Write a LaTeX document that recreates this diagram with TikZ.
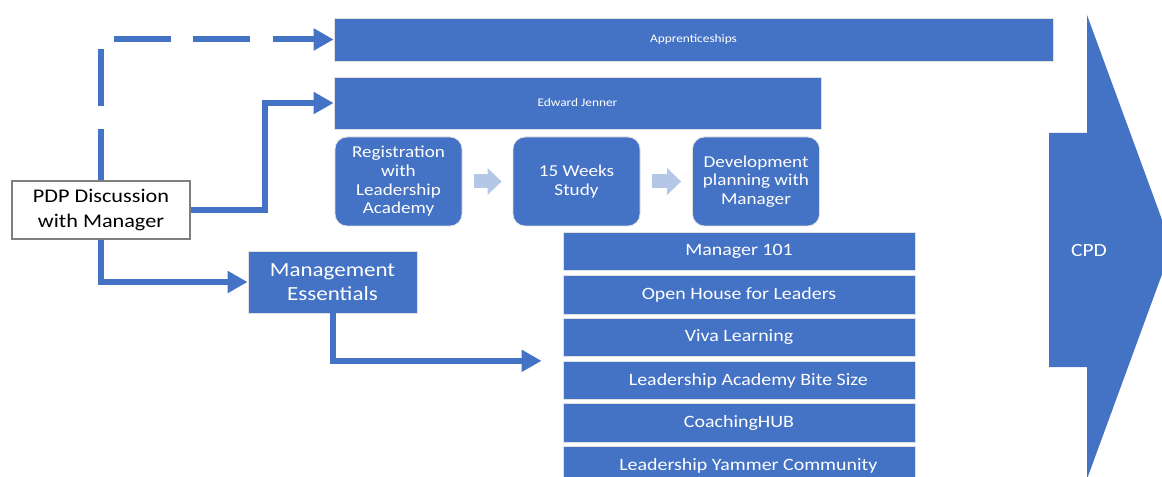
\documentclass[tikz,border=0pt]{standalone}
\usepackage{fontspec}
\setmainfont{Carlito}[FakeStretch=1.15]
\usetikzlibrary{arrows.meta,calc}
\definecolor{boxblue}{HTML}{4472C4}
\definecolor{steplight}{HTML}{B4C7E7}
\definecolor{pdpgray}{HTML}{7F7F7F}

\begin{document}
\begin{tikzpicture}[x=0.75pt,y=0.75pt,yscale=-1,xscale=1,
  bluebox/.style={fill=boxblue,draw=black!12,line width=0.6pt,text=white,inner sep=0.75pt,align=center},
  stepbox/.style={bluebox,rounded corners=9pt,minimum width=95.25pt,minimum height=66.75pt,font=\fontsize{12.5}{14}\selectfont},
  listbox/.style={bluebox,minimum width=264pt,minimum height=28.9pt,font=\fontsize{13}{15}\selectfont},
  conn/.style={draw=boxblue,line width=4.5pt,-{Triangle[length=15pt,width=15.75pt]}},
  steparrow/.style={draw=steplight,line width=10.5pt,-{Triangle[length=10.5pt,width=19.5pt]}}
]
\useasboundingbox (0,0) rectangle (1162,477);

% CPD arrow
\fill [boxblue] (1049,133) -- (1087,133) -- (1087,15) -- (1172,247) -- (1087,479) -- (1087,367) -- (1049,367) -- cycle ;
\draw (1089,251) node (cpd) [text=white,font=\fontsize{14}{16}\selectfont] {CPD};

% Text Node
\draw (101,210) node (pdp) [draw=pdpgray,line width=1.1pt,fill=white,minimum width=133.5pt,minimum height=43.5pt,inner sep=0.75pt,align=center,font=\fontsize{14.5}{19}\selectfont] {PDP Discussion\\with Manager};
% Text Node
\draw (693.5,39.5) node (app) [bluebox,minimum width=539.25pt,minimum height=32.25pt,font=\fontsize{8.7}{10}\selectfont] {Apprenticeships};
% Text Node
\draw (577.5,103) node (ej) [bluebox,minimum width=365.25pt,minimum height=39pt,font=\fontsize{8.7}{10}\selectfont] {Edward Jenner};
% Text Node
\draw (398.5,181.5) node (reg) [stepbox] {Registration\\with\\Leadership\\Academy};
% Text Node
\draw (576.5,181.5) node (wk) [stepbox] {15 Weeks\\Study};
% Text Node
\draw (756,181.5) node (dev) [stepbox] {Development\\planning with\\Manager};
% Text Node
\draw (332.5,282) node (me) [bluebox,minimum width=126.75pt,minimum height=46.5pt,font=\fontsize{15}{18}\selectfont] {Management\\Essentials};
% Text Node
\draw (739,251.5) node (mgr) [listbox] {Manager 101};
% Text Node
\draw (739,295) node (house) [listbox] {Open House for Leaders};
% Text Node
\draw (739,337.5) node (viva) [listbox] {Viva Learning};
% Text Node
\draw (739,380.5) node (bite) [listbox] {\hspace{14pt}Leadership Academy Bite Size};
% Text Node
\draw (739,423) node (hub) [listbox] {CoachingHUB};
% Text Node
\draw (739,466) node (yammer) [listbox] {\hspace{14pt}Leadership Yammer Community};

\coordinate (listin) at ($(bite.north west)+(-21,0)$);

% Connection
\draw [conn,dash pattern={on 42.75pt off 16.875pt},dash phase=4.125pt] (pdp.north) |- (app.west) ;
% Connection
\draw [conn] (pdp.east) -- ++(74,0) |- (ej.west) ;
% Connection
\draw [conn] (pdp.south) |- (me.west) ;
% Connection
\draw [conn] (me.south) |- (listin) ;
% Connection
\draw [steparrow,shorten <=9pt,shorten >=8.25pt] (reg) -- (wk) ;
% Connection
\draw [steparrow,shorten <=9pt,shorten >=8.25pt] (wk) -- (dev) ;

\end{tikzpicture}
\end{document}
